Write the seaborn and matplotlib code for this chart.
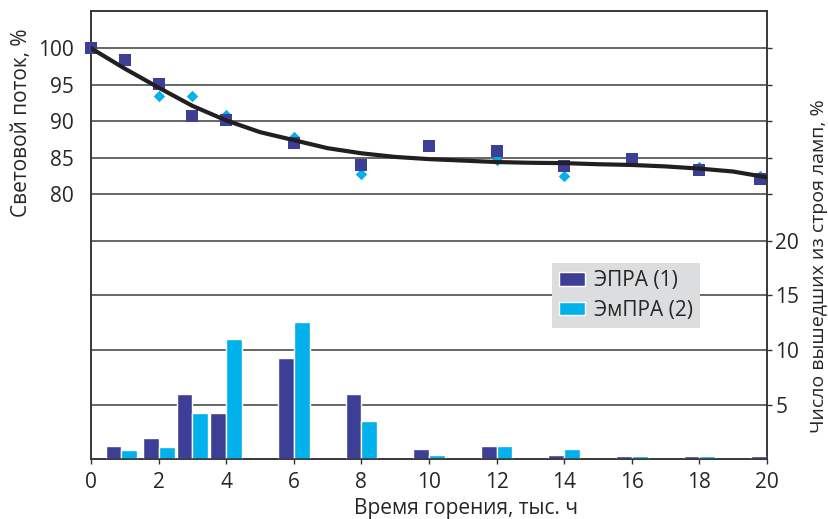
import numpy as np
import pandas as pd
import matplotlib
matplotlib.use("Agg")
import matplotlib.pyplot as plt
import seaborn as sns

# light output, % (left axis)
flux_hours = [0, 1, 2, 3, 4, 6, 8, 10, 12, 14, 16, 18, 19.8]
flux_epra = [100, 98.4, 95.1, 90.7, 90.1, 87.0, 84.0, 86.6, 85.9, 83.9, 84.8, 83.3, 82.1]
flux_empra = [100, 98.4, 93.4, 93.5, 90.9, 87.8, 82.7, 86.8, 84.7, 82.5, 84.8, 83.7, 82.5]

# trend line
trend_hours = list(range(0, 21))
trend_vals = [100, 97.2, 94.6, 92.1, 90.1, 88.5, 87.4, 86.3, 85.6, 85.1, 84.8,
              84.6, 84.4, 84.3, 84.25, 84.1, 84.0, 83.8, 83.5, 83.1, 82.3]

# failed lamps, % (right axis)
fail_hours = [0.9, 2, 3, 4, 6, 8, 10, 12, 14, 16, 18, 20]
fail_epra = [1.2, 1.9, 6.0, 4.2, 9.3, 6.0, 0.9, 1.2, 0.37, 0.28, 0.28, 0.28]
fail_empra = [0.85, 1.1, 4.2, 11.0, 12.6, 3.5, 0.37, 1.2, 0.92, 0.28, 0.28, 0.28]

labels = ["ЭПРА (1)", "ЭмПРА (2)"]
dark = "#3d3f96"
cyan = "#00b1eb"

sns.set_style("white")
plt.rcParams["font.family"] = ["Open Sans", "DejaVu Sans"]
plt.rcParams["font.size"] = 15

fig = plt.figure(figsize=(8.29, 5.19), dpi=100)
fig.subplots_adjust(left=0.1098, right=0.9252, bottom=0.1156, top=0.9788)
ax = fig.add_subplot(111)
ax2 = ax.twinx()

# bars
bars = pd.DataFrame({
    "t": fail_hours * 2,
    "v": fail_epra + fail_empra,
    "s": [labels[0]] * len(fail_hours) + [labels[1]] * len(fail_hours),
})
sns.barplot(data=bars, x="t", y="v", hue="s", native_scale=True, width=0.94,
            palette=[dark, cyan], saturation=1, ax=ax2, legend=True, zorder=3)

# points + trend
sns.scatterplot(x=flux_hours, y=flux_empra, marker="D", color=cyan, s=34,
                linewidth=0, ax=ax, zorder=3, clip_on=False)
sns.scatterplot(x=flux_hours, y=flux_epra, marker="s", color=dark, s=72,
                linewidth=0, ax=ax, zorder=3, clip_on=False)
sns.lineplot(x=trend_hours, y=trend_vals, color="#231f20", lw=3, ax=ax, zorder=4)

ax.set_xlim(0, 20)
ax.set_ylim(43.7, 105.1)
ax.set_yticks([80, 85, 90, 95, 100])
ax.set_xticks(range(0, 21, 2))
ax2.set_ylim(0, 41.1)
ax2.set_yticks([5, 10, 15, 20])

gridkw = dict(color="#5a5a5a", lw=1.3)
ax.yaxis.grid(True, **gridkw)
ax2.yaxis.grid(True, **gridkw)
ax.xaxis.grid(False)
ax2.xaxis.grid(False)
ax2.set_axisbelow(True)

ax.tick_params(axis="y", left=False, right=True, labelright=False, direction="out",
               length=3.5, width=1, color="#333333", pad=9, labelsize=15)
ax.tick_params(axis="x", bottom=True, direction="out", length=3.5, width=1,
               color="#333333", pad=6, labelsize=15)
ax2.tick_params(axis="y", right=True, direction="out", length=3.5, width=1,
                color="#333333", pad=2.5, labelsize=15)

for a in (ax, ax2):
    for sp in a.spines.values():
        sp.set_color("#333333")
        sp.set_linewidth(1.1)

ax.set_xlabel("Время горения, тыс. ч", fontsize=15)
ax.xaxis.set_label_coords(0.555, -0.087)
ax.set_ylabel("Световой поток, %", fontsize=15)
ax.yaxis.set_label_coords(-0.088, 0.75)
ax2.set_ylabel("Число вышедших из строя ламп, %", fontsize=14)
ax2.yaxis.set_label_coords(1.063, 0.431)

h, l = ax2.get_legend_handles_labels()
leg = ax2.legend(h, l, loc="upper left", bbox_to_anchor=(0.682, 0.4375),
                 borderaxespad=0, frameon=True, fancybox=False,
                 facecolor="#dcdddf", edgecolor="none", framealpha=1,
                 handlelength=1.25, handleheight=0.6, borderpad=0.35,
                 labelspacing=0.4, handletextpad=0.4, fontsize=15)

ax.set_zorder(ax2.get_zorder() + 1)
ax.patch.set_visible(False)

fig.savefig("out.png", dpi=100)
